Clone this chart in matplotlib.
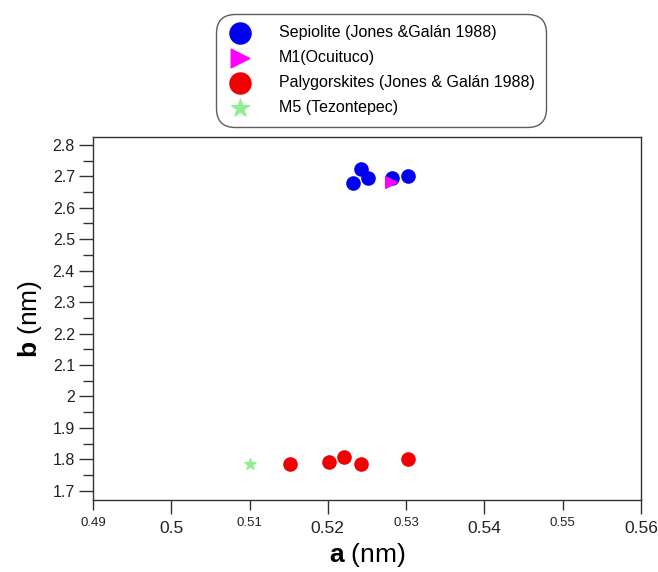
import matplotlib
matplotlib.use("Agg")
import matplotlib.pyplot as plt
from matplotlib.ticker import MultipleLocator, FixedLocator, FixedFormatter

plt.rcParams["font.family"] = ["Liberation Sans", "DejaVu Sans"]
plt.rcParams["mathtext.fontset"] = "custom"
plt.rcParams["mathtext.rm"] = "Liberation Sans"
plt.rcParams["mathtext.bf"] = "Liberation Sans:bold"

# data
sep_a = [0.5232, 0.5242, 0.5252, 0.5282, 0.5302]
sep_b = [2.678, 2.723, 2.696, 2.694, 2.701]
m1_a = [0.5281]
m1_b = [2.681]
paly_a = [0.5152, 0.5201, 0.5221, 0.5242, 0.5302]
paly_b = [1.786, 1.791, 1.807, 1.786, 1.800]
m5_a = [0.5101]
m5_b = [1.786]

major_x = [0.50, 0.52, 0.54, 0.56]
minor_x = [0.49, 0.51, 0.53, 0.55]

fig = plt.figure(figsize=(6.58, 5.72), dpi=100)
ax = fig.add_axes([0.1413, 0.1259, 0.8327, 0.6346])

h1 = ax.scatter(sep_a, sep_b, s=90, color="#0000f0", zorder=3)
h2 = ax.scatter(m1_a, m1_b, s=70, marker=">", color="#ff00ff", zorder=4)
h3 = ax.scatter(paly_a, paly_b, s=90, color="#f00000", zorder=3)
h4 = ax.scatter(m5_a, m5_b, s=70, marker="*", color="#90ee90", zorder=3)

ax.set_xlim(0.49, 0.56)
ax.set_ylim(1.671, 2.825)

ax.xaxis.set_major_locator(FixedLocator(major_x))
ax.xaxis.set_major_formatter(FixedFormatter(["0.5", "0.52", "0.54", "0.56"]))
ax.xaxis.set_minor_locator(FixedLocator(minor_x))
ax.xaxis.set_minor_formatter(FixedFormatter(["0.49", "0.51", "0.53", "0.55"]))
ax.tick_params(axis="x", which="major", direction="out", length=10, width=1,
               labelsize=12.5, pad=5, color="#333333", labelcolor="#222222")
ax.tick_params(axis="x", which="minor", direction="out", length=7, width=1,
               labelsize=9.5, pad=5, color="#333333", labelcolor="#222222")

ax.set_yticks([1.7 + 0.1 * i for i in range(12)])
ax.set_yticklabels(["1.7", "1.8", "1.9", "2", "2.1", "2.2", "2.3", "2.4",
                    "2.5", "2.6", "2.7", "2.8"])
ax.yaxis.set_minor_locator(MultipleLocator(0.05))
ax.tick_params(axis="y", which="major", direction="out", length=10, width=1,
               labelsize=11.5, pad=3, color="#333333", labelcolor="#222222")
ax.tick_params(axis="y", which="minor", direction="out", length=7, width=1,
               color="#333333")

for sp in ax.spines.values():
    sp.set_color("#333333")
    sp.set_linewidth(1)

ax.set_xlabel(r"$\mathbf{a}$ (nm)", fontsize=19, labelpad=4)
ax.set_ylabel(r"$\mathbf{b}$ (nm)", fontsize=19, labelpad=6)

leg = fig.legend([h1, h2, h3, h4],
                 ["Sepiolite (Jones &Galán 1988)", "M1(Ocuituco)",
                  "Palygorskites (Jones & Galán 1988)", "M5 (Tezontepec)"],
                 loc="upper left", bbox_to_anchor=(216 / 658, 1 - 14 / 572),
                 fontsize=11.5, markerscale=1.6, frameon=True, fancybox=True,
                 edgecolor="#333333", handletextpad=1.6, borderpad=0.72,
                 labelspacing=0.62, borderaxespad=0, handlelength=1.6)
leg.get_frame().set_linewidth(1)
leg.get_frame().set_boxstyle("round,pad=0,rounding_size=1.2")

fig.savefig("out.png", dpi=100)
